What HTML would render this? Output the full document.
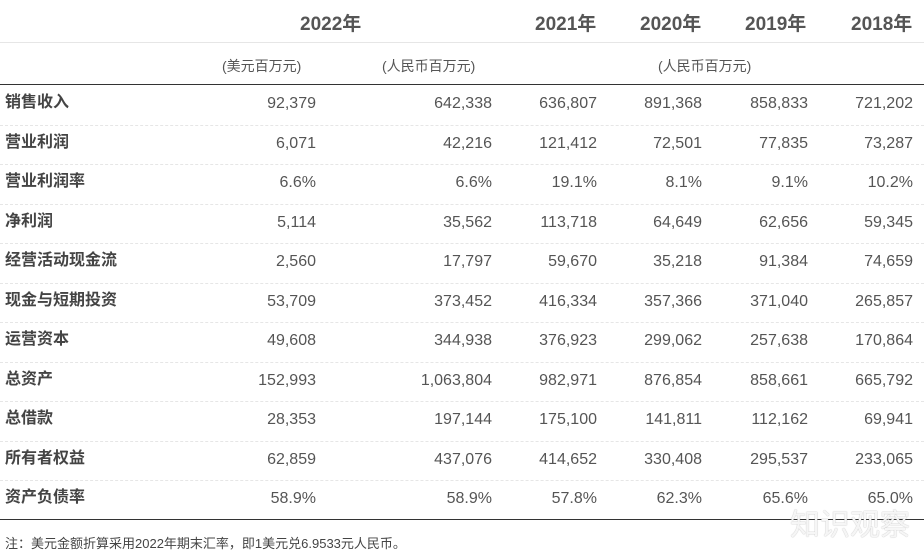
<!DOCTYPE html>
<html><head><meta charset="utf-8">
<style>
body{margin:0;width:924px;height:557px;background:#fff;font-family:"Liberation Sans","Noto Sans CJK SC",sans-serif;color:#555;position:relative;overflow:hidden}
.a{position:absolute;white-space:nowrap}
.yr{font-size:19px;font-weight:bold;top:9px;color:#555}
.unit{font-size:14px;top:56px;color:#555}
.lbl{left:5px;font-size:16px;font-weight:bold;color:#444;line-height:20px}
.num{font-size:16px;text-align:right;width:150px}
.hl{position:absolute;left:0;width:924px}
</style></head><body>
<div class="a yr" style="left:300px;">2022年</div>
<div class="a yr" style="left:535px;">2021年</div>
<div class="a yr" style="left:640px;">2020年</div>
<div class="a yr" style="left:745px;">2019年</div>
<div class="a yr" style="left:851px;">2018年</div>
<div class="hl" style="top:42px;border-top:1px solid #e6e6e6"></div>
<div class="a unit" style="left:222px;">(美元百万元)</div>
<div class="a unit" style="left:382px;">(人民币百万元)</div>
<div class="a unit" style="left:658px;">(人民币百万元)</div>
<div class="hl" style="top:84px;border-top:1.5px solid #333"></div>
<div id="rows"></div>
<div class="hl" style="top:519px;border-top:1.5px solid #333"></div>
<div class="a" style="left:5px;top:533px;font-size:13px;color:#444">注：美元金额折算采用2022年期末汇率，即1美元兑6.9533元人民币。</div>
<div class="a" style="left:790px;top:500px;font-size:30px;color:rgba(255,255,255,0.9);text-shadow:0 0 1px #999">知识观察</div>
<script>
const labels=["销售收入","营业利润","营业利润率","净利润","经营活动现金流","现金与短期投资","运营资本","总资产","总借款","所有者权益","资产负债率"];
const usd2022=["92,379","6,071","6.6%","5,114","2,560","53,709","49,608","152,993","28,353","62,859","58.9%"];
const rmb2022=["642,338","42,216","6.6%","35,562","17,797","373,452","344,938","1,063,804","197,144","437,076","58.9%"];
const y2021=["636,807","121,412","19.1%","113,718","59,670","416,334","376,923","982,971","175,100","414,652","57.8%"];
const y2020=["891,368","72,501","8.1%","64,649","35,218","357,366","299,062","876,854","141,811","330,408","62.3%"];
const y2019=["858,833","77,835","9.1%","62,656","91,384","371,040","257,638","858,661","112,162","295,537","65.6%"];
const y2018=["721,202","73,287","10.2%","59,345","74,659","265,857","170,864","665,792","69,941","233,065","65.0%"];
const cols=[usd2022,rmb2022,y2021,y2020,y2019,y2018];
const colNames=["usd-2022","rmb-2022","2021","2020","2019","2018"];
const rights=[316,492,597,702,808,913];
const root=document.getElementById('rows');
const top0=85,rh=39.5;
labels.forEach((l,i)=>{
  const y=top0+i*rh;
  const lab=document.createElement('div');
  lab.className='a lbl';lab.style.top=(y+8)+'px';lab.textContent=l;
  
  
  root.appendChild(lab);
  cols.forEach((c,j)=>{
    const d=document.createElement('div');
    d.className='a num';d.style.top=(y+10)+'px';d.style.left=(rights[j]-150)+'px';d.textContent=c[i];
    
    
    root.appendChild(d);
  });
  if(i<labels.length-1){
    const s=document.createElement('div');
    s.className='hl';s.style.top=(y+rh)+'px';s.style.borderTop='1px dashed #e6e6e6';
    
    
    root.appendChild(s);
  }
});
</script>
</body></html>
